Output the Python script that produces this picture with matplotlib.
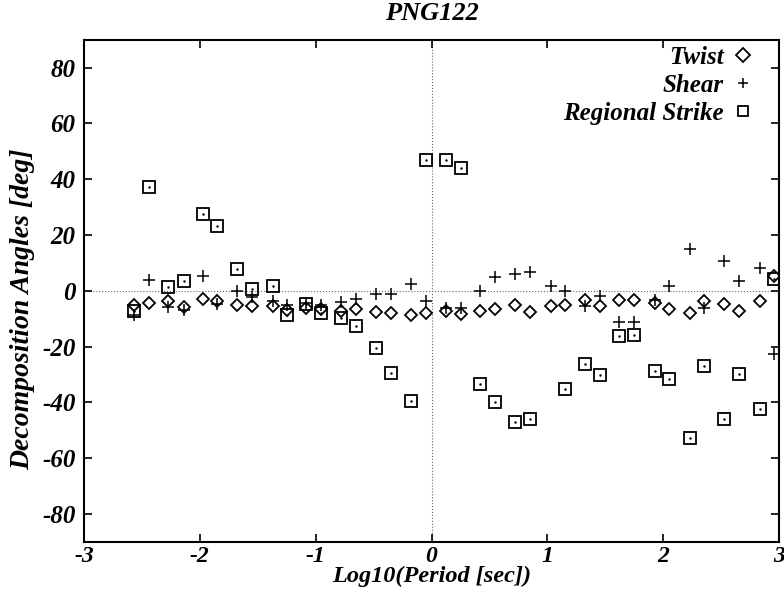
import matplotlib
matplotlib.use("Agg")
import matplotlib.pyplot as plt
import numpy as np

# Log10 period positions
log_period = [-2.57, -2.44, -2.27, -2.14, -1.97, -1.85, -1.675, -1.55, -1.37, -1.25,
              -1.08, -0.95, -0.78, -0.655, -0.48, -0.35, -0.18, -0.05, 0.12, 0.25,
              0.42, 0.55, 0.72, 0.85, 1.03, 1.15, 1.325, 1.45, 1.62, 1.75,
              1.925, 2.05, 2.23, 2.35, 2.52, 2.65, 2.83, 2.95]

twist = [-4.9, -4.4, -3.7, -5.8, -3.0, -3.7, -5.0, -5.6, -5.6, -6.9,
         -6.1, -6.4, -7.3, -6.4, -7.6, -7.9, -8.8, -8.0, -7.3, -8.2,
         -7.3, -6.4, -5.2, -7.4, -5.6, -5.0, -3.2, -5.6, -3.2, -3.2,
         -4.4, -6.4, -7.9, -3.7, -4.8, -7.3, -3.7, 5.2]

shear = [-8.5, 4.0, -5.8, -6.8, 5.2, -4.6, -0.1, -2.3, -3.5, -4.9,
         -4.3, -4.9, -4.0, -2.9, -1.3, -1.3, 2.5, -3.8, -6.1, -6.1,
         0.1, 5.1, 6.1, 6.9, 1.9, -0.2, -5.6, -1.7, -11.2, -11.2,
         -3.4, 1.6, 15.0, -6.1, 10.6, 3.5, 8.1, -22.5]

# regional strike (no value at log period 1.03)
strike_x = [-2.57, -2.44, -2.27, -2.14, -1.97, -1.85, -1.675, -1.55, -1.37, -1.25,
            -1.08, -0.95, -0.78, -0.655, -0.48, -0.35, -0.18, -0.05, 0.12, 0.25,
            0.42, 0.55, 0.72, 0.85, 1.15, 1.325, 1.45, 1.62, 1.75,
            1.925, 2.05, 2.23, 2.35, 2.52, 2.65, 2.83, 2.95]
strike = [-7.3, 37.3, 1.3, 3.7, 27.6, 23.1, 7.9, 0.5, 1.9, -8.5,
          -4.6, -8.0, -9.6, -12.7, -20.4, -29.4, -39.5, 46.8, 46.8, 43.9,
          -33.5, -39.8, -46.9, -46.0, -35.0, -26.1, -30.2, -16.3, -15.7,
          -28.7, -31.7, -52.8, -26.9, -46.0, -29.8, -42.5, 4.3]

font = ['Liberation Serif', 'DejaVu Serif']
plt.rcParams['font.family'] = font
plt.rcParams['font.weight'] = 'bold'
plt.rcParams['font.style'] = 'italic'
plt.rcParams['axes.unicode_minus'] = False

fig = plt.figure(figsize=(7.84, 5.93), dpi=100)
ax = fig.add_axes([0.107, 0.086, 0.887, 0.847])

# reference lines
ax.axhline(0, color='0.4', lw=0.8, ls=':', zorder=1)
ax.axvline(0, color='0.4', lw=0.8, ls=':', zorder=1)

ax.plot(log_period, twist, ls='none', marker='D', ms=6.5, mfc='none', mec='black',
        mew=1.3, label='Twist')
ax.plot(log_period, shear, ls='none', marker='+', ms=9, mec='black',
        mew=1.1, label='Shear')
ax.plot(strike_x, strike, ls='none', marker='s', ms=8.5, mfc='none', mec='black',
        mew=1.3, label='Regional Strike')
# small dot inside each square
ax.plot(strike_x, strike, ls='none', marker='.', ms=1.5, color='black')

ax.set_xlim(-3, 3)
ax.set_ylim(-90, 90)
ax.set_xticks([-3, -2, -1, 0, 1, 2, 3])
ax.set_yticks([-80, -60, -40, -20, 0, 20, 40, 60, 80])
ax.tick_params(direction='in', length=6, width=1.2, top=True, right=True,
               labelsize=18, pad=6)
ax.tick_params(axis='x', labelsize=17, pad=3)
for lbl in ax.get_xticklabels() + ax.get_yticklabels():
    lbl.set_fontweight('bold')
    lbl.set_fontstyle('italic')
for s in ax.spines.values():
    s.set_linewidth(1.5)

ax.set_title('PNG122', fontsize=19, fontweight='bold', style='italic', pad=14)
ax.set_xlabel('Log10(Period [sec])', fontsize=17.5, fontweight='bold', style='italic', labelpad=-1)
ax.set_ylabel('Decomposition Angles [deg]', fontsize=20, fontweight='bold', style='italic')
ax.yaxis.set_label_coords(-0.07, 0.464)

leg = ax.legend(loc='upper right', bbox_to_anchor=(0.98, 1.008), frameon=False,
                markerfirst=False, handlelength=1.0, handletextpad=0.25,
                labelspacing=0.2, borderaxespad=0,
                prop={'family': font, 'weight': 'bold', 'style': 'italic', 'size': 18})
for h in leg.legend_handles:
    h.set_markersize(7)

fig.savefig('out.png', dpi=100)
